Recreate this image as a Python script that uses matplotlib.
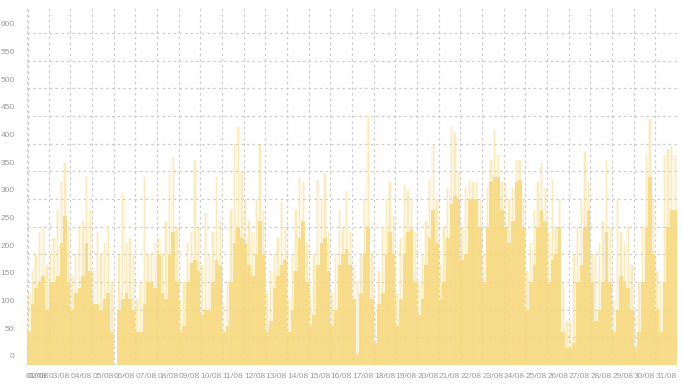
import numpy as np
import matplotlib
matplotlib.use("Agg")
import matplotlib.pyplot as plt
from matplotlib.transforms import ScaledTranslation

# day labels along the bottom (01/08 .. 31/08)
day_labels = ["%02d/08" % d for d in range(1, 32)]
y_ticks = list(range(0, 601, 50))

# typical level, six 4-hour slots per day
base_level = [
    60, 110, 140, 150, 160, 100,
    150, 150, 160, 220, 270, 150,
    100, 130, 140, 160, 220, 170,
    110, 110, 100, 120, 130, 60,
    0, 100, 120, 130, 120, 100,
    60, 60, 110, 150, 150, 140,
    200, 130, 120, 200, 240, 150,
    60, 70, 150, 185, 190, 170,
    90, 100, 100, 150, 190, 180,
    60, 70, 150, 220, 250, 230,
    220, 180, 160, 200, 260, 200,
    60, 80, 140, 160, 180, 190,
    60, 100, 170, 230, 260, 150,
    70, 90, 180, 220, 230, 170,
    70, 100, 180, 200, 210, 180,
    120, 20, 130, 200, 250, 120,
    40, 110, 130, 200, 240, 200,
    70, 120, 200, 240, 245, 150,
    90, 120, 180, 230, 280, 220,
    120, 150, 230, 290, 305, 300,
    190, 200, 300, 300, 300, 250,
    150, 250, 330, 340, 340, 280,
    250, 220, 260, 330, 335, 250,
    100, 150, 180, 250, 280, 260,
    150, 190, 200, 250, 60, 30,
    30, 40, 150, 180, 250, 280,
    150, 80, 100, 150, 240, 150,
    60, 100, 160, 150, 140, 100,
    30, 60, 150, 250, 340, 200,
    100, 60, 150, 250, 280, 280,
]

# short peaks in the same slots
peak_level = [
    130, 170, 200, 240, 250, 180,
    200, 230, 280, 330, 365, 250,
    160, 200, 250, 260, 340, 280,
    170, 240, 200, 220, 250, 150,
    0, 200, 310, 220, 230, 200,
    120, 150, 340, 200, 200, 220,
    230, 200, 260, 345, 375, 250,
    120, 150, 220, 240, 370, 250,
    180, 275, 200, 240, 340, 260,
    110, 150, 280, 400, 430, 350,
    300, 260, 240, 300, 400, 280,
    130, 170, 200, 230, 295, 250,
    120, 200, 280, 340, 330, 220,
    130, 200, 335, 300, 345, 240,
    130, 200, 280, 250, 315, 240,
    180, 150, 200, 300, 450, 200,
    100, 170, 250, 300, 330, 270,
    130, 230, 325, 315, 300, 240,
    150, 200, 260, 335, 400, 300,
    180, 250, 320, 430, 420, 350,
    250, 320, 335, 330, 330, 300,
    200, 320, 370, 425, 380, 330,
    330, 300, 320, 370, 370, 300,
    170, 220, 280, 330, 365, 320,
    240, 335, 250, 300, 150, 80,
    80, 200, 250, 300, 385, 330,
    200, 200, 220, 260, 370, 250,
    120, 300, 240, 220, 250, 180,
    90, 150, 250, 380, 445, 300,
    170, 150, 380, 390, 395, 380,
]

YELLOW = "#f7d97f"
GRID = "#cccccc"
TEXT = "#9a9a9a"

plt.rcParams["font.family"] = ["Liberation Sans", "DejaVu Sans"]

fig = plt.figure(figsize=(6.83, 3.86), dpi=100)
ax = fig.add_axes([27 / 683, 21 / 386, 650 / 683, 357 / 386])

n = len(base_level)
x = np.arange(n + 1) / 6.0
base = np.append(base_level, base_level[-1])
peak = np.append(peak_level, peak_level[-1])

ax.fill_between(x, 0, peak, step="post", color=YELLOW, alpha=0.22, lw=0, zorder=2)
ax.bar(np.arange(n) / 6.0 + 1 / 12, peak_level, width=0.06, color=YELLOW,
       alpha=0.35, lw=0, zorder=2)
ax.fill_between(x, 0, base, step="post", color=YELLOW, alpha=0.88, lw=0, zorder=3)

ax.set_xlim(0, 30)
ax.set_ylim(0, 645)

# grid
for v in y_ticks:
    ax.axhline(v, color=GRID, lw=0.9, ls=(0, (2, 2.5)), zorder=1)
for d in range(0, 30):
    ax.axvline(d, color=GRID, lw=0.9, ls=(0, (2, 2.5)), zorder=1)
ax.axvline(0.05, color=GRID, lw=0.9, ls=(1, (2, 2.5)), zorder=1)

for s in ax.spines.values():
    s.set_visible(False)

xt = [0.45, 0.5] + [d + 0.5 for d in range(1, 30)]
ax.set_xticks(xt)
ax.set_xticklabels(day_labels)
ax.set_yticks(y_ticks)
ax.set_yticklabels([str(v) for v in y_ticks])
ax.tick_params(axis="both", length=0, labelsize=6, labelcolor=TEXT)
ax.tick_params(axis="x", pad=6)
ax.tick_params(axis="y", pad=9)
shift = ScaledTranslation(0, 9 / 100, fig.dpi_scale_trans)
for lab in ax.get_yticklabels():
    lab.set_transform(lab.get_transform() + shift)

fig.savefig("out.png", dpi=100)
